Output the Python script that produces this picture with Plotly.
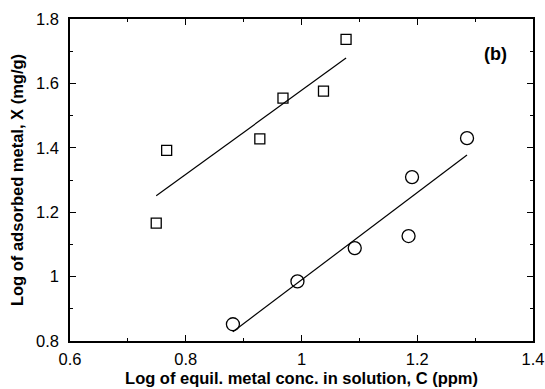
import numpy as np
import plotly.graph_objects as go

# Freundlich isotherm data (log-log)
sq_logC = [0.749, 0.767, 0.928, 0.968, 1.038, 1.077]
sq_logX = [1.166, 1.392, 1.428, 1.554, 1.576, 1.737]

ci_logC = [0.8815, 0.993, 1.092, 1.185, 1.191, 1.286]
ci_logX = [0.852, 0.985, 1.0885, 1.126, 1.309, 1.430]

x_ticks = [0.6, 0.8, 1.0, 1.2, 1.4]
y_ticks = [0.8, 1.0, 1.2, 1.4, 1.6, 1.8]

FONT = "Liberation Sans, Arial, sans-serif"


def fit_line(x, y):
    slope, icpt = np.polyfit(x, y, 1)
    xs = [min(x), max(x)]
    return xs, [slope * v + icpt for v in xs]


fig = go.Figure()

for xs, ys, sym, size in [(sq_logC, sq_logX, "square-open", 10),
                          (ci_logC, ci_logX, "circle-open", 13)]:
    lx, ly = fit_line(xs, ys)
    fig.add_trace(go.Scatter(x=lx, y=ly, mode="lines",
                             line=dict(color="black", width=1.2),
                             showlegend=False, hoverinfo="skip"))
    fig.add_trace(go.Scatter(x=xs, y=ys, mode="markers",
                             marker=dict(symbol=sym, size=size, color="black",
                                         line=dict(width=1.3, color="black")),
                             showlegend=False))

axis_common = dict(
    showgrid=False, zeroline=False, showline=True, linecolor="black",
    linewidth=1.5, mirror="allticks", ticks="inside", ticklen=6,
    tickwidth=1, tickcolor="black", automargin=False,
    tickfont=dict(family=FONT, size=16.5, color="black"),
    minor=dict(ticks="inside", ticklen=3, tickwidth=1, tickcolor="black", dtick=0.1),
)

fig.update_xaxes(range=[0.6, 1.4], tickvals=x_ticks, ticklabelstandoff=2,
                 title=dict(text="<b>Log of equil. metal conc. in solution, C (ppm)</b>",
                            font=dict(family=FONT, size=16.5, color="black"),
                            standoff=6),
                 **axis_common)
fig.update_yaxes(range=[0.8, 1.8], tickvals=y_ticks, ticklabelstandoff=6,
                 title=dict(text="<b>Log of adsorbed metal, X (mg/g)</b>",
                            font=dict(family=FONT, size=16.5, color="black"),
                            standoff=8),
                 **axis_common)

fig.add_annotation(x=1.336, y=1.691, text="<b>(b)</b>", showarrow=False,
                   font=dict(family=FONT, size=18, color="black"))

fig.update_layout(width=545, height=389,
                  margin=dict(l=70, r=12, t=19, b=48),
                  paper_bgcolor="white", plot_bgcolor="white")

fig.write_html("out.html")
